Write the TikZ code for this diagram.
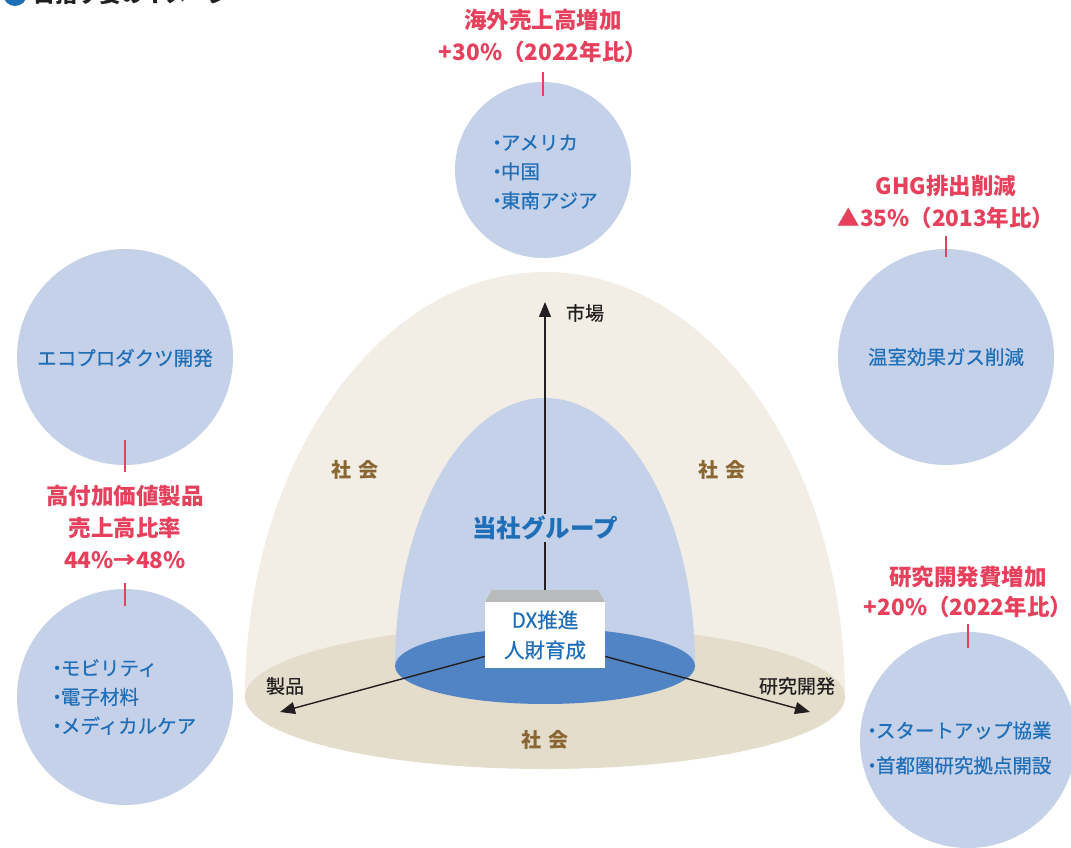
\documentclass[tikz,border=0pt]{standalone}
\usepackage{fontspec}
\newfontfamily\jp{Noto Sans CJK JP}
\newfontfamily\jpm[FakeBold=0.5]{Noto Sans CJK JP}
\usetikzlibrary{arrows.meta}
\newcommand{\bul}{\hspace{-0.25em}・\hspace{-0.3em}}
\definecolor{circblue}{HTML}{C5D1E8}
\definecolor{txtblue}{HTML}{1F6EB8}
\definecolor{redtxt}{HTML}{E6405C}
\definecolor{outerbeige}{HTML}{F2EEE6}
\definecolor{basebeige}{HTML}{E4DDCC}
\definecolor{ellblue}{HTML}{5084C4}
\definecolor{browntxt}{HTML}{8A6632}
\definecolor{boxgray}{HTML}{B9BABC}
\definecolor{darktxt}{HTML}{231F20}
\tikzset{
  goal/.style={fill=circblue, draw=none},
  redlabel/.style={text=redtxt, font=\jp\bfseries\fontsize{22.5}{32}\selectfont, align=center, inner sep=0pt},
  redline/.style={draw=redtxt, line width=1.2pt},
  circtext/.style={text=txtblue, font=\jpm\fontsize{19.5}{29}\selectfont, align=left, inner sep=0pt},
  society/.style={text=browntxt, font=\jp\bfseries\fontsize{20}{22}\selectfont, inner sep=0pt},
  axislabel/.style={text=darktxt, font=\jpm\fontsize{19}{22}\selectfont, inner sep=0pt},
  axis/.style={draw=darktxt, line width=1.4pt, -{Triangle[length=15pt,width=12pt]}},
}
\begin{document}
\begin{tikzpicture}[x=1pt,y=1pt, font=\jp]
\useasboundingbox (0,0) rectangle (1071,847);
\clip (0,0) rectangle (1071,847);
\fill[white] (0,0) rectangle (1071,847);

% cut-off title
\fill[txtblue] (15,853) circle (12);
\node[anchor=west, text=darktxt, font=\jp\bfseries\fontsize{22}{24}\selectfont, inner sep=0pt] (title) at (33,853) {目指す姿のイメージ};

% outer dome (society)
\fill[outerbeige] (245,150) arc[start angle=180, end angle=0, x radius=300, y radius=425] -- cycle;
\fill[basebeige] (545,150) ellipse [x radius=300, y radius=72];
% inner dome (group)
\fill[circblue] (395,181) arc[start angle=180, end angle=0, x radius=150, y radius=268] -- cycle;
\fill[ellblue] (545,181) ellipse [x radius=150, y radius=38];

% axes
\coordinate (o) at (545,252);
\coordinate (ol) at (490,192);
\coordinate (or) at (600,192);
\coordinate (market) at (545,545);
\coordinate (prod) at (280,135);
\coordinate (rnd) at (810,135);
\draw[axis] (o) -- (market);
\draw[axis] (ol) -- (prod);
\draw[axis] (or) -- (rnd);

\node[axislabel] (lmarket) at (585,534) {市場};
\node[axislabel] (lprod) at (285,161) {製品};
\node[axislabel] (lrnd) at (797,161) {研究開発};

% group label
\node[fill=circblue, text=txtblue, font=\jp\bfseries\fontsize{24.5}{26}\selectfont, inner sep=2pt] (group) at (545,319) {当社グループ};

% society labels
\node[society] (s1) at (355,377) {社\hspace{0.4em}会};
\node[society] (s2) at (722,377) {社\hspace{0.4em}会};
\node[society] (s3) at (545,107) {社\hspace{0.4em}会};

% DX box
\fill[boxgray] (485,245) -- (605,245) -- (598,257) -- (492,257) -- cycle;
\node[fill=white, minimum width=120pt, minimum height=66pt, inner sep=0pt, text=txtblue, align=center, font=\jpm\fontsize{20.5}{30}\selectfont] (dx) at (545,212) {DX推進\\人財育成};

% goal circles
\fill[goal] (543,677) circle (88);
\fill[goal] (946,490) circle (108);
\fill[goal] (125,490) circle (108);
\fill[goal] (125,150) circle (108);
\fill[goal] (968,107) circle (108);
\node[coordinate] (cTop) at (543,677) {};
\node[coordinate] (cRT) at (946,490) {};
\node[coordinate] (cLT) at (125,490) {};
\node[coordinate] (cLB) at (125,150) {};
\node[coordinate] (cRB) at (968,107) {};

\node[circtext, anchor=west] (tTop) at (492,675) {\bul アメリカ\\\bul 中国\\\bul 東南アジア};
\node[circtext] (tRT) at (946,490) {温室効果ガス削減};
\node[circtext] (tLT) at (125,489) {エコプロダクツ開発};
\node[circtext, anchor=west] (tLB) at (52,150) {\bul モビリティ\\\bul 電子材料\\\bul メディカルケア};
\node[circtext, anchor=west, font=\jpm\fontsize{19.5}{35}\selectfont] (tRB) at (867,99) {\bul スタートアップ協業\\\bul 首都圏研究拠点開設};

% red labels
\node[redlabel] (rTop) at (543,811) {海外売上高増加\\+30\%（2022年比）};
\node[redlabel] (rRT) at (946,645) {GHG排出削減\\▲35\%（2013年比）};
\node[redlabel] (rL) at (125,320) {高付加価値製品\\売上高比率\\44\%→48\%};
\node[redlabel, font=\jp\bfseries\fontsize{22.5}{30}\selectfont] (rRB) at (968,255) {研究開発費増加\\+20\%（2022年比）};

% red connector lines
\coordinate (a1) at (543,775); \coordinate (a2) at (543,751);
\coordinate (b1) at (946,611); \coordinate (b2) at (946,590);
\coordinate (c1) at (125,407); \coordinate (c2) at (125,375);
\coordinate (d1) at (125,264); \coordinate (d2) at (125,241);
\coordinate (e1) at (968,223); \coordinate (e2) at (968,199);
\draw[redline] (a1) -- (a2);
\draw[redline] (b1) -- (b2);
\draw[redline] (c1) -- (c2);
\draw[redline] (d1) -- (d2);
\draw[redline] (e1) -- (e2);
\end{tikzpicture}
\end{document}
